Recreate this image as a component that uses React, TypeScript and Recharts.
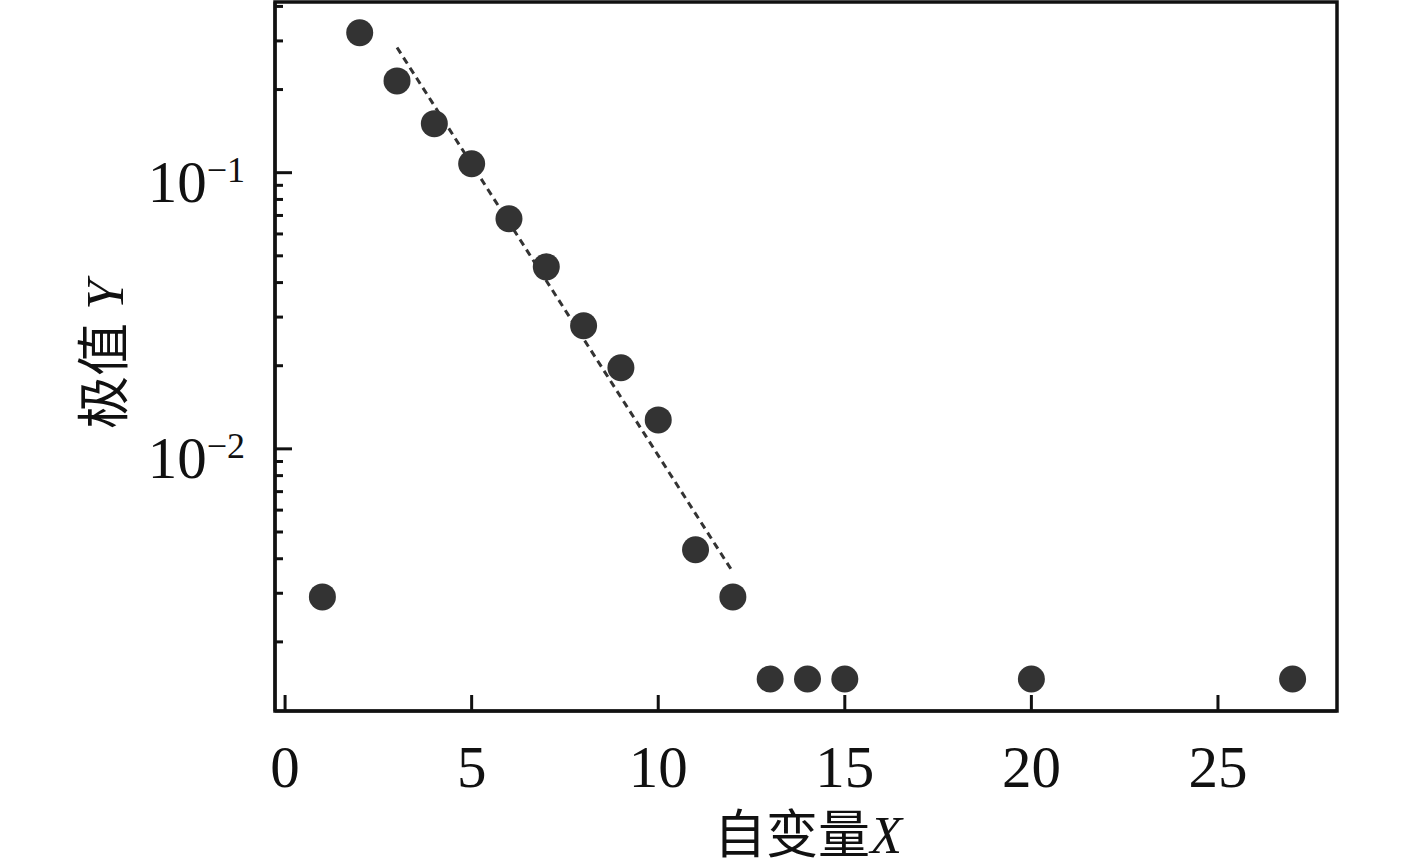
import React from 'react'
import {
  ScatterChart, Scatter, XAxis, YAxis, ReferenceArea,
} from 'recharts'

const xValues = [1, 2, 3, 4, 5, 6, 7, 8, 9, 10, 11, 12, 13, 14, 15, 20, 27]
const yValues = [
  0.00291, 0.321, 0.215, 0.1505, 0.1078, 0.0681, 0.0456, 0.0279, 0.01966,
  0.01273, 0.00431, 0.00291, 0.001468, 0.001468, 0.001468, 0.001468, 0.001468,
]
const fitX = [3, 12]
const fitY = [0.284, 0.00358]

const xTicks = [0, 5, 10, 15, 20, 25]
const yMajorTicks = [0.01, 0.1]
const yMinorTicks = [
  0.002, 0.003, 0.004, 0.005, 0.006, 0.007, 0.008, 0.009,
  0.02, 0.03, 0.04, 0.05, 0.06, 0.07, 0.08, 0.09,
  0.2, 0.3, 0.4,
]
const xLabel = '自变量'
const yLabel = '极值'

const xDomain: [number, number] = [-0.27, 28.19]
const yDomain: [number, number] = [0.001124, 0.415]

const points = xValues.map((x, i) => ({ x, y: yValues[i] }))
const fitLine = fitX.map((x, i) => ({ x, y: fitY[i] }))
const yTicks = [...yMinorTicks, ...yMajorTicks].sort((a, b) => a - b)

const FONT = '"Liberation Serif", "Times New Roman", "Noto Sans CJK SC", serif'
const INK = '#111'

const Dot = (props: any) => (
  <circle cx={props.cx} cy={props.cy} r={13.5} fill="#333" />
)

const YTick = ({ x, y, payload }: any) => {
  const v = payload.value
  const major = yMajorTicks.some((m) => Math.abs(m - v) < 1e-9)
  return (
    <g>
      <line x1={x} x2={x + (major ? 17 : 8)} y1={y} y2={y} stroke={INK} strokeWidth={3} />
      {major && (
        <text x={x - 30} y={y + 29} textAnchor="end" fontFamily={FONT} fontSize={59} fill={INK}>
          10
          <tspan dy={-20} fontSize={36}>{'\u2212' + Math.abs(Math.round(Math.log10(v)))}</tspan>
        </text>
      )}
    </g>
  )
}

const XTick = ({ x, y, payload }: any) => (
  <g>
    <line x1={x} x2={x} y1={y} y2={y - 16} stroke={INK} strokeWidth={3} />
    <text x={x} y={y + 76} textAnchor="middle" fontFamily={FONT} fontSize={59} fill={INK}>
      {payload.value}
    </text>
  </g>
)

const XLabel = ({ viewBox }: any) => (
  <text
    x={viewBox.x + viewBox.width / 2 + 2}
    y={viewBox.y + 142}
    textAnchor="middle"
    fontFamily={FONT}
    fontSize={52}
    fill={INK}
  >
    {xLabel}
    <tspan fontStyle="italic">X</tspan>
  </text>
)

const YLabel = ({ viewBox }: any) => {
  const cx = 105
  const cy = viewBox.y + viewBox.height / 2 - 2
  return (
    <text
      x={cx}
      y={cy}
      transform={`rotate(-90 ${cx} ${cy})`}
      textAnchor="middle"
      dominantBaseline="central"
      fontFamily={FONT}
      fontSize={53}
      fill={INK}
    >
      {yLabel + ' '}
      <tspan fontStyle="italic">Y</tspan>
    </text>
  )
}

export default function App() {
  return (
    <div style={{ position: 'absolute', left: 0, top: 0, background: '#fff' }}>
      <ScatterChart
        width={1417}
        height={867}
        margin={{ top: 2, right: 80, bottom: 0, left: 0 }}
      >
        <XAxis
          type="number"
          dataKey="x"
          domain={xDomain}
          allowDataOverflow
          ticks={xTicks}
          interval={0}
          height={156}
          tickSize={0}
          tickMargin={0}
          tickLine={false}
          axisLine={{ stroke: INK, strokeWidth: 3 }}
          tick={<XTick />}
          label={{ content: <XLabel /> }}
        />
        <YAxis
          type="number"
          dataKey="y"
          scale="log"
          domain={yDomain}
          allowDataOverflow
          ticks={yTicks}
          interval={0}
          width={275}
          tickSize={0}
          tickMargin={0}
          tickLine={false}
          axisLine={{ stroke: INK, strokeWidth: 3 }}
          tick={<YTick />}
          label={{ content: <YLabel /> }}
        />
        <ReferenceArea
          x1={xDomain[0]}
          x2={xDomain[1]}
          y1={yDomain[0]}
          y2={yDomain[1]}
          fill="none"
          stroke={INK}
          strokeWidth={3.5}
          ifOverflow="visible"
        />
        <Scatter
          data={fitLine}
          line={{ stroke: '#333', strokeWidth: 3, strokeDasharray: '7 5' }}
          lineType="joint"
          shape={() => null}
          isAnimationActive={false}
        />
        <Scatter data={points} shape={<Dot />} isAnimationActive={false} />
      </ScatterChart>
    </div>
  )
}
